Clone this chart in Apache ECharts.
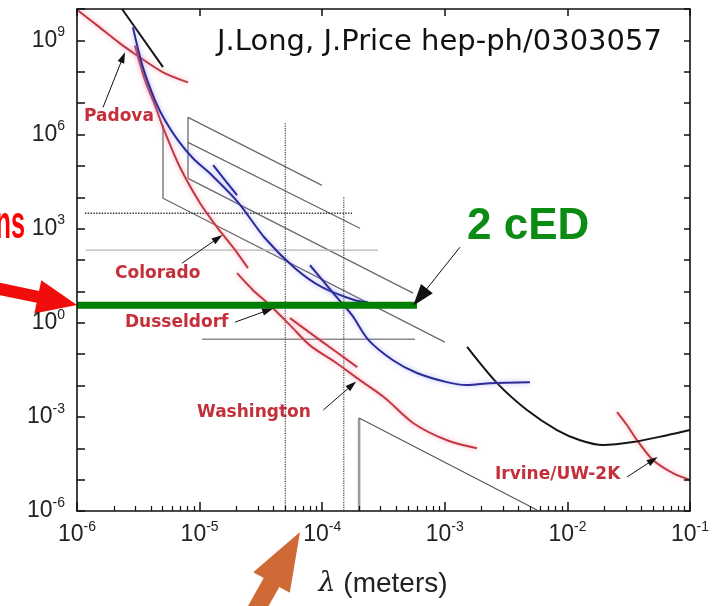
<!DOCTYPE html>
<html>
<head>
<meta charset="utf-8">
<script src="https://cdn.jsdelivr.net/npm/echarts@6/dist/echarts.min.js"></script>
<style>
  * { margin: 0; padding: 0; }
  #chart-container { width: 715px; height: 606px; background: #fff; overflow: hidden; }
</style>
</head>
<body>
<div id="chart-container"></div>
<script>
// axis ranges (lambda in metres, alpha)
var xMin = 1e-6, xMax = 1e-1
var yMin = 1e-6, yMax = 1e10
var xTickExps = [-6, -5, -4, -3, -2, -1]
var yTickExps = [-6, -3, 0, 3, 6, 9]

// curves, [lambda, alpha]
var padova = [[1.02e-6, 9.0e9], [1.46e-6, 3.0e9], [2.24e-6, 8.0e8], [3.09e-6, 3.3e8], [5.03e-6, 9.6e7], [8.04e-6, 4.6e7]]
var blackTop = [[2.33e-6, 1e10], [5.03e-6, 1.4e8]]
var blueMain = [[2.86e-6, 2.6e9], [3.45e-6, 1.38e8], [4.33e-6, 1.23e7], [5.22e-6, 2.83e6], [6.67e-6, 6.5e5], [8.83e-6, 1.75e5],
  [1.26e-5, 5.0e4], [2.06e-5, 6.9e3], [3.42e-5, 494], [6.0e-5, 55], [9.96e-5, 13.6], [1.85e-4, 5.2], [2.36e-4, 4.5]]
var blueShort = [[1.29e-5, 1.05e5], [1.61e-5, 3.5e4], [2.02e-5, 1.16e4]]
var blueLow = [[7.95e-5, 68], [1.27e-4, 7.6], [1.75e-4, 1.75], [2.39e-4, 0.28], [3.78e-4, 0.064], [5.93e-4, 0.025],
  [1.04e-3, 0.0128], [1.52e-3, 0.0103], [2.34e-3, 0.0119], [4.95e-3, 0.0128]]
var colorado = [[2.97e-6, 6.9e8], [3.59e-6, 5.3e7], [4.33e-6, 8.5e6], [5.03e-6, 1.7e6], [6.92e-6, 9.0e4], [1.01e-5, 6.4e3],
  [1.39e-5, 1.1e3], [1.87e-5, 256], [2.48e-5, 55]]
var dusseldorf = [[2.02e-5, 38], [2.73e-5, 10.9], [3.75e-5, 3.6], [5.46e-5, 0.84], [7.95e-5, 0.19], [1.27e-4, 0.056],
  [2.03e-4, 0.0149], [3.25e-4, 4.0e-3], [5.51e-4, 6.4e-4], [1.04e-3, 1.8e-4], [1.83e-3, 1.0e-4]]
var washington = [[5.46e-5, 1.4], [9.59e-5, 0.28], [1.93e-4, 0.0385]]
var irvine = [[2.54e-2, 1.42e-3], [3.06e-2, 5.5e-4], [3.70e-2, 1.8e-4], [4.99e-2, 4.2e-5], [7.26e-2, 1.6e-5], [0.1, 9.7e-6]]
var blackRight = [[1.52e-3, 0.17], [2.67e-3, 0.0119], [4.68e-3, 1.65e-3], [8.22e-3, 3.8e-4], [1.27e-2, 1.8e-4],
  [1.95e-2, 1.26e-4], [3.43e-2, 1.57e-4], [6.49e-2, 2.6e-4], [0.1, 3.8e-4]]

// straight limit lines
var boxLeft = [[5.03e-6, 1.96e6], [5.03e-6, 9.3e3], [1.0e-3, 0.24]]
var boxRight = [[8.04e-6, 4.0e4], [8.04e-6, 3.5e6], [9.96e-5, 2.4e4]]
var diag2 = [[8.04e-6, 5.6e5], [2.03e-4, 1.03e3]]
var diag3 = [[8.04e-6, 4.0e4], [5.51e-4, 8.8]]
var dottedH = [[1.16e-6, 3.1e3], [1.75e-4, 3.1e3]]
var grayH1 = [[1.18e-6, 205], [2.85e-4, 205]]
var grayH2 = [[1.05e-5, 0.30], [5.71e-4, 0.30]]
var dottedV1 = [[5e-5, 2.3e6], [5e-5, 1e-6]]
var dottedV2 = [[1.5e-4, 1e4], [1.5e-4, 1e-6]]
var bottomVert = [[2e-4, 1e-6], [2e-4, 9.2e-4]]
var bottomDiag = [[2e-4, 9.2e-4], [5.65e-3, 1.08e-6]]
var cED = [[1e-6, 3.6], [5.93e-4, 3.6]]

// label arrows [from, to]
var arrows = [
  [[1.63e-6, 7.3e6], [2.37e-6, 2.9e8]],
  [[7.18e-6, 79], [1.41e-5, 494]],
  [[1.94e-5, 1.04], [3.61e-5, 2.5]],
  [[1.02e-4, 1.65e-3], [1.75e-4, 0.0103]],
  [[3.06e-2, 1.21e-5], [4.99e-2, 4.2e-5]]
]
var cEDArrow = [[1.33e-3, 256], [6.28e-4, 6.5]]

var chartDom = document.getElementById('chart-container')
var myChart = echarts.init(chartDom, null, { renderer: 'canvas' })

function curve(data, color, width, glow, extra) {
  var s = {
    type: 'line',
    data: data,
    showSymbol: false,
    symbol: 'none',
    silent: true,
    smooth: 0.3,
    lineStyle: { color: color, width: width }
  }
  if (glow) {
    s.lineStyle.shadowColor = glow
    s.lineStyle.shadowBlur = 5
  }
  if (extra) Object.assign(s.lineStyle, extra)
  return s
}

function straight(data, color, width, extra) {
  var s = curve(data, color, width, null, extra)
  s.smooth = false
  return s
}

function powLabel(v) {
  var e = Math.round(Math.log10(v))
  return '{b|10}{s|' + e + '}'
}

var labelRich = {
  b: { fontSize: 23, lineHeight: 30, color: '#222', fontFamily: 'Liberation Sans' },
  s: { fontSize: 14, lineHeight: 14, verticalAlign: 'top', color: '#222', fontFamily: 'Liberation Sans' }
}

function frame() {
  return { show: true, onZero: false, lineStyle: { color: '#111', width: 1.6 } }
}
function ticks(len) {
  return { show: true, inside: true, length: len, lineStyle: { color: '#111', width: 1.5 } }
}

function redLabel(text, x, y) {
  return {
    type: 'text', x: x, y: y,
    style: {
      text: text, fill: '#c42f3a', font: 'bold 17px "DejaVu Sans"', textVerticalAlign: 'middle',
      shadowColor: 'rgba(255,120,140,0.7)', shadowBlur: 4
    }
  }
}

var arrowLines = arrows.map(function (a) {
  return [{ coord: a[0], symbol: 'none' }, { coord: a[1], symbol: 'triangle', symbolSize: [7, 11] }]
})
arrowLines.push([{ coord: cEDArrow[0], symbol: 'none' }, { coord: cEDArrow[1], symbol: 'triangle', symbolSize: [15, 22] }])

// the green 2 cED line carries the annotation arrows
var cEDSeries = straight(cED, '#008000', 7)
cEDSeries.markLine = {
  silent: true, animation: false,
  label: { show: false },
  lineStyle: { color: '#111', width: 1, type: 'solid' },
  itemStyle: { color: '#111' },
  emphasis: { disabled: true },
  data: arrowLines
}

var option = {
  animation: false,
  backgroundColor: '#fff',
  title: {
    text: 'J.Long, J.Price hep-ph/0303057',
    left: 212, top: 23,
    textStyle: { fontFamily: 'DejaVu Sans', fontWeight: 'normal', fontSize: 29, color: '#111' }
  },
  grid: { left: 77, right: 25, top: 9, bottom: 95 },
  xAxis: [
    {
      type: 'log', logBase: 10, min: xMin, max: xMax, interval: 1, position: 'bottom', z: 10,
      axisLine: frame(),
      axisTick: ticks(9),
      minorTick: { show: true, splitNumber: 9, length: 5, lineStyle: { color: '#111', width: 1.2 } },
      splitLine: { show: false },
      axisLabel: {
        margin: 9,
        formatter: function (v) {
          var e = Math.round(Math.log10(v))
          return xTickExps.indexOf(e) < 0 ? '' : powLabel(v)
        },
        rich: labelRich
      }
    },
    {
      type: 'log', logBase: 10, min: xMin, max: xMax, interval: 1, position: 'top', z: 10,
      axisLine: frame(),
      axisTick: ticks(7),
      axisLabel: { show: false },
      splitLine: { show: false }
    }
  ],
  yAxis: [
    {
      type: 'log', logBase: 10, min: yMin, max: yMax, interval: 1, position: 'left', z: 10,
      axisLine: frame(),
      axisTick: ticks(8),
      splitLine: { show: false },
      axisLabel: {
        margin: 12,
        formatter: function (v) {
          var e = Math.round(Math.log10(v))
          return yTickExps.indexOf(e) < 0 ? '' : powLabel(v)
        },
        rich: labelRich
      }
    },
    {
      type: 'log', logBase: 10, min: yMin, max: yMax, interval: 1, position: 'right', z: 10,
      axisLine: frame(),
      axisTick: ticks(6),
      axisLabel: { show: false },
      splitLine: { show: false }
    }
  ],
  series: [
    straight(boxLeft, '#6a6a6a', 1.3),
    straight(boxRight, '#6a6a6a', 1.3),
    straight(diag2, '#6a6a6a', 1.3),
    straight(diag3, '#6a6a6a', 1.3),
    straight(dottedH, '#333', 1.4, { type: 'dotted' }),
    straight(grayH1, '#b4b4b4', 1.2),
    straight(grayH2, '#8a8a8a', 1.5),
    straight(dottedV1, '#444', 1.2, { type: 'dotted' }),
    straight(dottedV2, '#444', 1.2, { type: 'dotted' }),
    straight(bottomVert, '#9a9a9a', 2.5),
    straight(bottomDiag, '#555', 1.1),
    curve(padova, '#c03a44', 2, 'rgba(255,140,160,0.8)'),
    curve(colorado, '#c03a44', 2, 'rgba(255,140,160,0.8)'),
    curve(dusseldorf, '#c03a44', 2, 'rgba(255,140,160,0.8)'),
    curve(washington, '#c03a44', 2, 'rgba(255,140,160,0.8)'),
    curve(irvine, '#c03a44', 2, 'rgba(255,140,160,0.8)'),
    straight(blackTop, '#151515', 2),
    curve(blackRight, '#151515', 2),
    curve(blueMain, '#2c2c96', 2, 'rgba(140,140,255,0.7)'),
    curve(blueShort, '#2c2c96', 2, 'rgba(140,140,255,0.7)'),
    curve(blueLow, '#2c2c96', 2, 'rgba(140,140,255,0.7)'),
    cEDSeries
  ],
  graphic: [
    redLabel('Padova', 84, 117),
    redLabel('Colorado', 115, 274),
    redLabel('Dusseldorf', 125, 323),
    redLabel('Washington', 197, 413),
    redLabel('Irvine/UW-2K', 495, 475),
    {
      type: 'text', x: 383, y: 584,
      style: {
        text: '{l|λ} (meters)', fill: '#222', font: '28px "Liberation Sans"',
        textAlign: 'center', textVerticalAlign: 'middle',
        rich: { l: { fontSize: 27, fontStyle: 'italic', fontFamily: 'DejaVu Serif', fill: '#222' } }
      }
    },
    {
      type: 'text', x: 467, y: 227,
      style: { text: '2 cED', fill: '#0c8c14', font: 'bold 44px "Liberation Sans"', textVerticalAlign: 'middle' }
    },
    {
      type: 'text', x: 25, y: 225, scaleX: 0.55,
      style: { text: 'ns', fill: '#f00', font: 'bold 46px "Liberation Sans"', textAlign: 'right', textVerticalAlign: 'middle' }
    },
    {
      type: 'polygon',
      shape: { points: [[-12.3, 292.6], [36.6, 302.8], [34.3, 313.5], [77, 305], [41.3, 280.3], [39.0, 291.0], [-9.9, 280.8]] },
      style: { fill: '#f20d0d' }
    },
    {
      type: 'polygon',
      shape: { points: [[259.7, 621.7], [279.3, 586.9], [289.8, 592.8], [300, 532], [253.2, 572.2], [263.7, 578.1], [244.1, 612.9]] },
      style: { fill: '#cf6a36' }
    }
  ]
}

myChart.setOption(option)
window.addEventListener('resize', myChart.resize)
</script>
</body>
</html>
